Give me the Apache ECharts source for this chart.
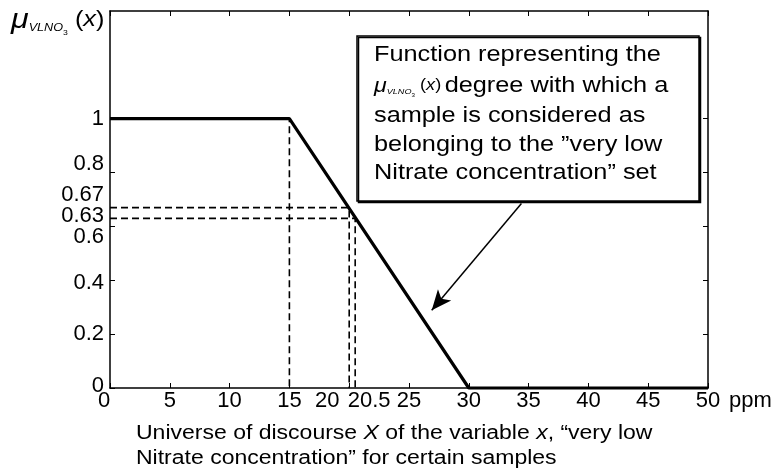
<!DOCTYPE html>
<html><head><meta charset="utf-8">
<script src="https://cdn.jsdelivr.net/npm/echarts@6/dist/echarts.min.js"></script>
<style>html,body{margin:0;padding:0;background:#fff}#c{width:783px;height:473px}</style>
</head><body><div id="c"></div>
<script>
// ---- data ----
const membershipX = [0, 15, 30, 50];
const membershipY = [1, 1, 0, 0];
const guideX = [15, 20, 20.5];
const guideY = [1, 0.67, 0.63];
const xTickValues = [0, 5, 10, 15, 20, 25, 30, 35, 40, 45, 50];
const xLabelValues = [0, 5, 10, 15, 20, 20.5, 25, 30, 35, 40, 45, 50];
const yTickValues = [0, 0.2, 0.4, 0.6, 0.8, 1];
const yLabelValues = [0, 0.2, 0.4, 0.6, 0.63, 0.67, 0.8, 1];
const arrowFrom = [34.4, 0.685];
const arrowTo = [26.9, 0.289];

// ---- styling helpers ----
const FONT = 'Liberation Sans, Arial, Helvetica, sans-serif';
const TICK_FS = 22;
const xShift = { '0': 'l6', '20': 'l22', '20.5': 'r14' };
const yShift = { '0': 'u2', '0.4': 'd3', '0.6': 'd11', '0.63': 'u2', '0.67': 'u13', '0.8': 'u9' };
function tok(padding) { return { fontSize: TICK_FS, fontFamily: FONT, color: '#000', padding: padding }; }
const xRich = { l6: tok([0, 12, 0, 0]), l22: tok([0, 44, 0, 0]), r14: tok([0, 0, 0, 28]) };
const yRich = {
  u2: tok([0, 0, 4, 0]), u9: tok([0, 0, 18, 0]), u13: tok([0, 0, 26, 0]),
  d3: tok([6, 0, 0, 0]), d11: tok([22, 0, 0, 0])
};

const membership = membershipX.map((x, i) => [x, membershipY[i]]);
const guides = guideX.map((gx, i) => ({
  type: 'line', data: [[0, guideY[i]], [gx, guideY[i]], [gx, 0]],
  showSymbol: false, silent: true, clip: false, z: 2,
  lineStyle: { color: '#000', width: 1.6, type: [7, 4] }
}));

const chart = echarts.init(document.getElementById('c'), null, { renderer: 'canvas' });
const axisLine = { show: true, onZero: false, lineStyle: { color: '#000', width: 1.5 } };
const tickStyle = { color: '#000', width: 1 };

const TXT_SX = 1.15;
const boxFs = 22;
const muRich = (s) => ({
  mu: { fontSize: 28 * s, fontFamily: FONT, fontStyle: 'italic', fill: '#000' },
  sub: { fontSize: 11 * s, fontFamily: FONT, fontStyle: 'italic', fill: '#000', padding: [16 * s, 0, 0, 0] },
  s3: { fontSize: 7.5 * s, fontFamily: FONT, fill: '#000', padding: [26 * s, 0, 0, 0] },
  p: { fontSize: 22 * s, fontFamily: FONT, fill: '#000' },
  ix: { fontSize: 22 * s, fontFamily: FONT, fontStyle: 'italic', fill: '#000' },
  t: { fontSize: boxFs, fontFamily: FONT, fill: '#000', padding: [0, 0, 0, 3] }
});
const formula = '{mu|μ}{sub|VLNO}{s3|3}{p| (}{ix|x}{p|)}';
const boxLines = [
  'Function representing the',
  formula + '{t|degree with which a}',
  'sample is considered as',
  'belonging to the ”very low',
  'Nitrate concentration” set'
];
const boxLineY = [55, 86, 116, 145, 173];

const graphics = [
  {
    type: 'rect', z: 10,
    shape: { x: 357, y: 36, width: 342, height: 165 },
    style: { fill: '#fff', stroke: '#000', lineWidth: 1.5, shadowColor: '#000', shadowOffsetX: 1.5, shadowOffsetY: 1.5, shadowBlur: 0 }
  },
  ...boxLines.map((t, i) => ({
    type: 'text', z: 11, x: 374, y: boxLineY[i], scaleX: TXT_SX,
    style: { text: t, rich: muRich(0.72), fontSize: boxFs, fontFamily: FONT, fill: '#000', verticalAlign: 'middle', align: 'left' }
  })),
  {
    type: 'text', z: 11, x: 11, y: 20, scaleX: TXT_SX,
    style: { text: formula, rich: muRich(1), fill: '#000', verticalAlign: 'middle', align: 'left' }
  },
  {
    type: 'text', z: 11, x: 136, y: 446, scaleX: TXT_SX,
    style: {
      text: 'Universe of discourse {i|X} of the variable {i|x}, “very low\nNitrate concentration” for certain samples',
      fontSize: 20, fontFamily: FONT, fill: '#000', lineHeight: 25, verticalAlign: 'middle', align: 'left',
      rich: { i: { fontSize: 20, fontFamily: FONT, fontStyle: 'italic', fill: '#000', lineHeight: 25 } }
    }
  }
];

chart.setOption({
  animation: false,
  backgroundColor: '#fff',
  grid: { left: 110, top: 11, right: 75, bottom: 85, containLabel: false },
  xAxis: [
    {
      type: 'value', position: 'bottom', min: 0, max: 50,
      axisLine: axisLine, splitLine: { show: false },
      axisTick: { show: true, inside: true, length: 5, lineStyle: tickStyle, customValues: xTickValues },
      axisLabel: {
        show: true, margin: 2, fontSize: TICK_FS, fontFamily: FONT, color: '#000',
        customValues: xLabelValues, rich: xRich,
        formatter: (v) => xShift[String(v)] ? '{' + xShift[String(v)] + '|' + v + '}' : String(v)
      },
      name: 'ppm', nameLocation: 'end', nameGap: 21,
      nameTextStyle: { fontSize: TICK_FS, fontFamily: FONT, color: '#000', align: 'left', verticalAlign: 'top', padding: [2, 0, 0, 0] }
    },
    {
      type: 'value', position: 'top', min: 0, max: 50,
      axisLine: axisLine, splitLine: { show: false },
      axisTick: { show: true, inside: true, length: 5, lineStyle: tickStyle, customValues: xTickValues },
      axisLabel: { show: false }
    }
  ],
  yAxis: [
    {
      type: 'value', position: 'left', min: 0, max: 1.4,
      axisLine: axisLine, splitLine: { show: false },
      axisTick: { show: true, inside: true, length: 5, lineStyle: tickStyle, customValues: yTickValues },
      axisLabel: {
        show: true, margin: 6, fontSize: TICK_FS, fontFamily: FONT, color: '#000',
        customValues: yLabelValues, rich: yRich,
        formatter: (v) => yShift[String(v)] ? '{' + yShift[String(v)] + '|' + v + '}' : String(v)
      }
    },
    {
      type: 'value', position: 'right', min: 0, max: 1.4,
      axisLine: axisLine, splitLine: { show: false },
      axisTick: { show: true, inside: true, length: 5, lineStyle: tickStyle, customValues: yTickValues },
      axisLabel: { show: false }
    }
  ],
  series: [
    ...guides,
    {
      type: 'line', data: membership, showSymbol: false, clip: false, z: 3, silent: true,
      lineStyle: { color: '#000', width: 3.2 },
      markLine: {
        silent: true, symbol: ['none', 'arrow'], symbolSize: [13, 20],
        label: { show: false },
        lineStyle: { color: '#000', width: 1.5, type: 'solid' },
        data: [[{ coord: arrowFrom }, { coord: arrowTo }]]
      }
    }
  ],
  graphic: graphics
});
</script>
</body></html>
